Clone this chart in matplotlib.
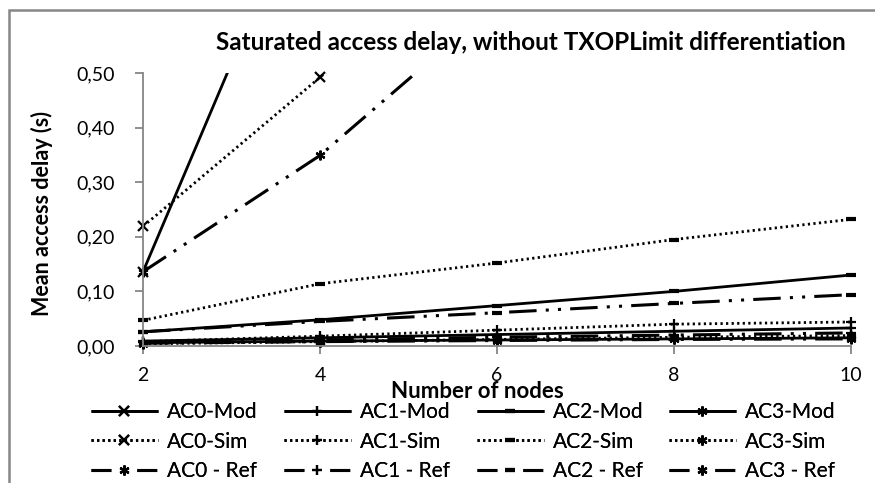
import numpy as np
import matplotlib

matplotlib.use("Agg")
import matplotlib.pyplot as plt
from matplotlib.patches import Rectangle
from matplotlib.ticker import FuncFormatter, MultipleLocator

nodes = [2, 4, 6, 8, 10]

ac0_mod = [0.136, 0.90, 2.00, 3.30, 4.90]
ac0_sim = [0.219, 0.492, 0.78, 1.08, 1.40]
ac0_ref = [0.136, 0.349, 0.628, 0.95, 1.30]

ac1_mod = [0.009, 0.015, 0.021, 0.027, 0.033]
ac1_sim = [0.008, 0.018, 0.029, 0.040, 0.044]
ac1_ref = [0.007, 0.011, 0.016, 0.020, 0.024]

ac2_mod = [0.026, 0.048, 0.074, 0.100, 0.130]
ac2_sim = [0.047, 0.114, 0.152, 0.195, 0.232]
ac2_ref = [0.026, 0.045, 0.061, 0.078, 0.094]

ac3_mod = [0.006, 0.009, 0.011, 0.013, 0.015]
ac3_sim = [0.004, 0.008, 0.012, 0.016, 0.019]
ac3_ref = [0.005, 0.008, 0.010, 0.012, 0.013]

title = "Saturated access delay, without TXOPLimit differentiation"
xlabel = "Number of nodes"
ylabel = "Mean access delay (s)"

plt.rcParams["font.family"] = ["Lato", "DejaVu Sans"]

AST = (6, 2, 0)  # excel-like asterisk
SOLID = dict(linestyle="-", linewidth=2.0)
DOT = dict(linestyle=(0, (0.8, 1.2)), linewidth=2.0)
REF = dict(linestyle=(0, (9, 3, 1, 3, 1, 3)), linewidth=2.2)
REF_KEY = dict(linestyle=(0, (6.5, 8.5)), linewidth=2.2)  # how excel draws it in the legend

series = [
    # (label, values, style, legend style, marker) ordered column by column for the legend
    ("AC0-Mod", ac0_mod, SOLID, SOLID, "x"),
    ("AC0-Sim", ac0_sim, DOT, DOT, "x"),
    ("AC0 - Ref", ac0_ref, REF, REF_KEY, AST),
    ("AC1-Mod", ac1_mod, SOLID, SOLID, "+"),
    ("AC1-Sim", ac1_sim, DOT, DOT, "+"),
    ("AC1 - Ref", ac1_ref, REF, REF_KEY, "+"),
    ("AC2-Mod", ac2_mod, SOLID, SOLID, "_"),
    ("AC2-Sim", ac2_sim, DOT, DOT, "_"),
    ("AC2 - Ref", ac2_ref, REF, REF_KEY, "_"),
    ("AC3-Mod", ac3_mod, SOLID, SOLID, AST),
    ("AC3-Sim", ac3_sim, DOT, DOT, AST),
    ("AC3 - Ref", ac3_ref, REF, REF_KEY, AST),
]

W, H = 875, 483
fig = plt.figure(figsize=(W / 100, H / 100), dpi=100)
ax = fig.add_axes([143 / W, 1 - 346 / H, (851 - 143) / W, (346 - 73) / H])

ymax = 0.5
handles = []
for label, vals, style, key_style, mk in series:
    vals = np.asarray(vals, dtype=float)
    ax.plot(nodes, vals, color="black", solid_capstyle="butt", dash_capstyle="butt", **style)
    shown = np.where(vals <= ymax + 1e-9, vals, np.nan)
    mew = 3.0 if mk == "_" else 1.6
    ax.plot(nodes, shown, linestyle="none", marker=mk, markersize=7, markeredgewidth=mew,
            color="black", clip_on=False)
    h, = ax.plot([], [], color="black", marker=mk, markersize=7, markeredgewidth=mew,
                 solid_capstyle="butt", dash_capstyle="butt", **key_style)
    handles.append((h, label))

ax.set_xlim(2, 10)
ax.set_ylim(0, ymax)
ax.set_xticks(nodes)
ax.yaxis.set_major_locator(MultipleLocator(0.1))
ax.yaxis.set_major_formatter(FuncFormatter(lambda v, _: f"{v:.2f}".replace(".", ",")))

for side in ("top", "right"):
    ax.spines[side].set_visible(False)
for side in ("left", "bottom"):
    ax.spines[side].set_color("#868686")
    ax.spines[side].set_linewidth(1.3)
ax.tick_params(axis="both", direction="out", length=6, width=1.3, color="#868686",
               labelsize=14, labelcolor="black")
ax.tick_params(axis="y", pad=14)
ax.tick_params(axis="x", pad=9)

fig.text(531 / W, 1 - 43 / H, title, ha="center", va="center", fontsize=17.5, fontweight="bold")
fig.text(477 / W, 1 - 391 / H, xlabel, ha="center", va="center", fontsize=16, fontweight="bold")
fig.text(42 / W, 1 - 214 / H, ylabel, ha="center", va="center", rotation=90,
         fontsize=15.5, fontweight="bold")

# four legend columns, one per access category
col_x = [91, 284, 477, 669]
for i, x0 in enumerate(col_x):
    chunk = handles[i * 3:(i + 1) * 3]
    leg = fig.legend([h for h, _ in chunk], [l for _, l in chunk], loc="upper left",
                     bbox_to_anchor=(x0 / W, 1 - 402 / H), frameon=False, fontsize=15,
                     handlelength=3.2, handletextpad=0.45, labelspacing=0.46,
                     borderpad=0, borderaxespad=0, markerscale=1.0)
    fig.add_artist(leg)

fig.add_artist(Rectangle((8.5 / W, -0.05), 1.1, 1.05 - 10 / H, transform=fig.transFigure,
                         fill=False, edgecolor="#868686", linewidth=1.8, clip_on=False))

fig.savefig("out.png", dpi=100)
